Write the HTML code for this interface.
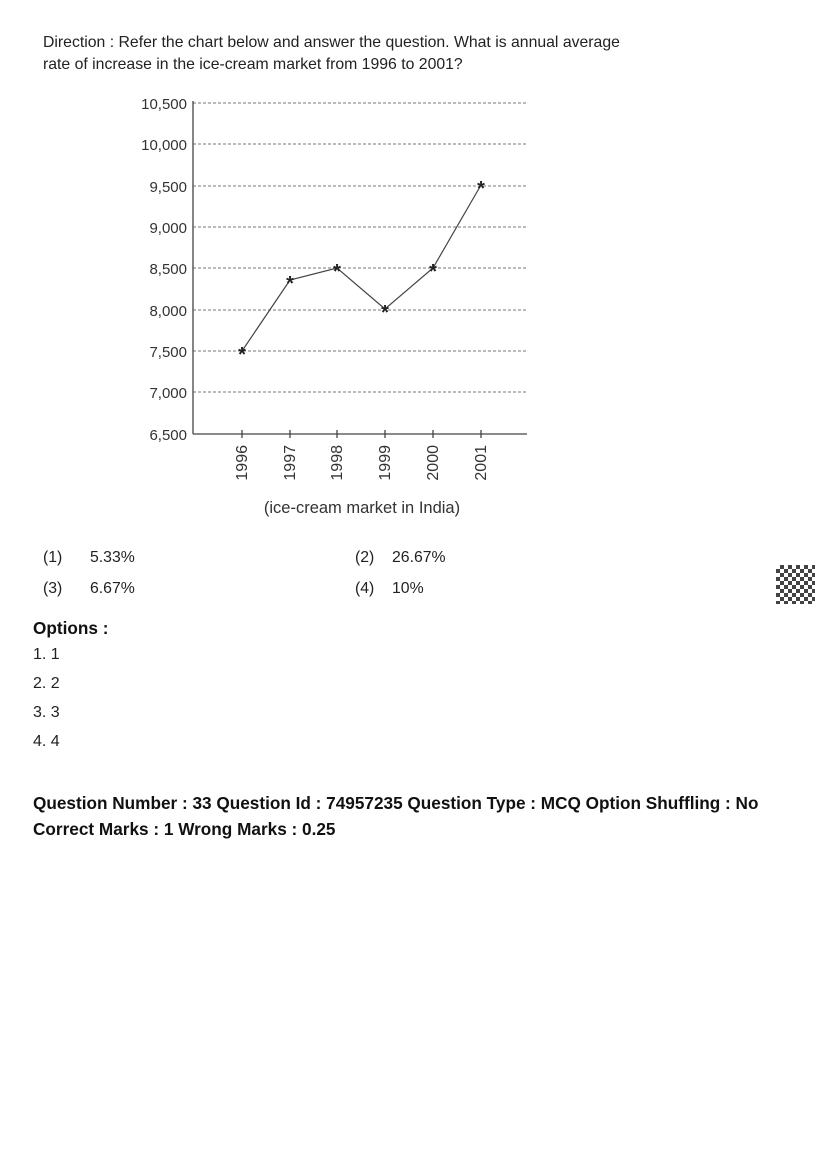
<!DOCTYPE html>
<html><head><meta charset="utf-8"><style>
body{margin:0;width:826px;height:1169px;background:#fff;position:relative;font-family:"Liberation Sans","DejaVu Sans",sans-serif;color:#222;}
.t{position:absolute;white-space:nowrap;}
.q{font-size:15.8px;}
.b{font-size:17.2px;font-weight:bold;color:#111;}
.o{font-size:16px;}
</style></head><body>
<div class="t q" style="left:43px;top:34px">Direction : Refer the chart below and answer the question. What is annual average</div>
<div class="t q" style="left:43px;top:56px">rate of increase in the ice-cream market from 1996 to 2001?</div>
<svg style="position:absolute;left:0;top:0" width="826" height="560">
<g stroke="#777" stroke-width="1" stroke-dasharray="3,2">
<line x1="193" y1="103" x2="527" y2="103"/><line x1="193" y1="144" x2="527" y2="144"/>
<line x1="193" y1="186" x2="527" y2="186"/><line x1="193" y1="227" x2="527" y2="227"/>
<line x1="193" y1="268" x2="527" y2="268"/><line x1="193" y1="310" x2="527" y2="310"/>
<line x1="193" y1="351" x2="527" y2="351"/><line x1="193" y1="392" x2="527" y2="392"/>
</g>
<g stroke="#444" stroke-width="1.3">
<line x1="193" y1="101" x2="193" y2="434"/><line x1="193" y1="434" x2="527" y2="434"/>
<line x1="242" y1="430" x2="242" y2="438"/><line x1="290" y1="430" x2="290" y2="438"/>
<line x1="337" y1="430" x2="337" y2="438"/><line x1="385" y1="430" x2="385" y2="438"/>
<line x1="433" y1="430" x2="433" y2="438"/><line x1="481" y1="430" x2="481" y2="438"/>
</g>
<polyline fill="none" stroke="#444" stroke-width="1.2" points="242,351 290,280 337,268 385,309 433,268 481,185"/>
<g font-size="20" font-weight="bold" text-anchor="middle" fill="#222">
<text x="242" y="361">*</text><text x="290" y="290">*</text><text x="337" y="278">*</text>
<text x="385" y="319">*</text><text x="433" y="278">*</text><text x="481" y="195">*</text>
</g>
<g font-size="15" text-anchor="end" fill="#333">
<text x="187" y="109">10,500</text><text x="187" y="150">10,000</text><text x="187" y="192">9,500</text>
<text x="187" y="233">9,000</text><text x="187" y="274">8,500</text><text x="187" y="316">8,000</text>
<text x="187" y="357">7,500</text><text x="187" y="398">7,000</text><text x="187" y="440">6,500</text>
</g>
<g font-size="16" text-anchor="end" fill="#333">
<text transform="translate(247,445) rotate(-90)">1996</text>
<text transform="translate(295,445) rotate(-90)">1997</text>
<text transform="translate(342,445) rotate(-90)">1998</text>
<text transform="translate(390,445) rotate(-90)">1999</text>
<text transform="translate(438,445) rotate(-90)">2000</text>
<text transform="translate(486,445) rotate(-90)">2001</text>
</g>
<text x="362" y="513" font-size="16.5" text-anchor="middle" fill="#333">(ice-cream market in India)</text>
</svg>
<div class="t q" style="left:43px;top:549px">(1)</div><div class="t q" style="left:90px;top:549px">5.33%</div>
<div class="t q" style="left:355px;top:549px">(2)</div><div class="t q" style="left:392px;top:549px">26.67%</div>
<div class="t q" style="left:43px;top:580px">(3)</div><div class="t q" style="left:90px;top:580px">6.67%</div>
<div class="t q" style="left:355px;top:580px">(4)</div><div class="t q" style="left:392px;top:580px">10%</div>
<div style="position:absolute;left:776px;top:565px;width:39px;height:39px;background:repeating-conic-gradient(#222 0 25%,#fff 0 50%) 0 0/8px 8px;opacity:.85"></div>
<div class="t b" style="left:33px;top:618px">Options :</div>
<div class="t o" style="left:33px;top:646px">1. 1</div>
<div class="t o" style="left:33px;top:675px">2. 2</div>
<div class="t o" style="left:33px;top:704px">3. 3</div>
<div class="t o" style="left:33px;top:733px">4. 4</div>
<div class="t b" style="left:33px;top:793px">Question Number : 33 Question Id : 74957235 Question Type : MCQ Option Shuffling : No</div>
<div class="t b" style="left:33px;top:819px">Correct Marks : 1 Wrong Marks : 0.25</div>
</body></html>
